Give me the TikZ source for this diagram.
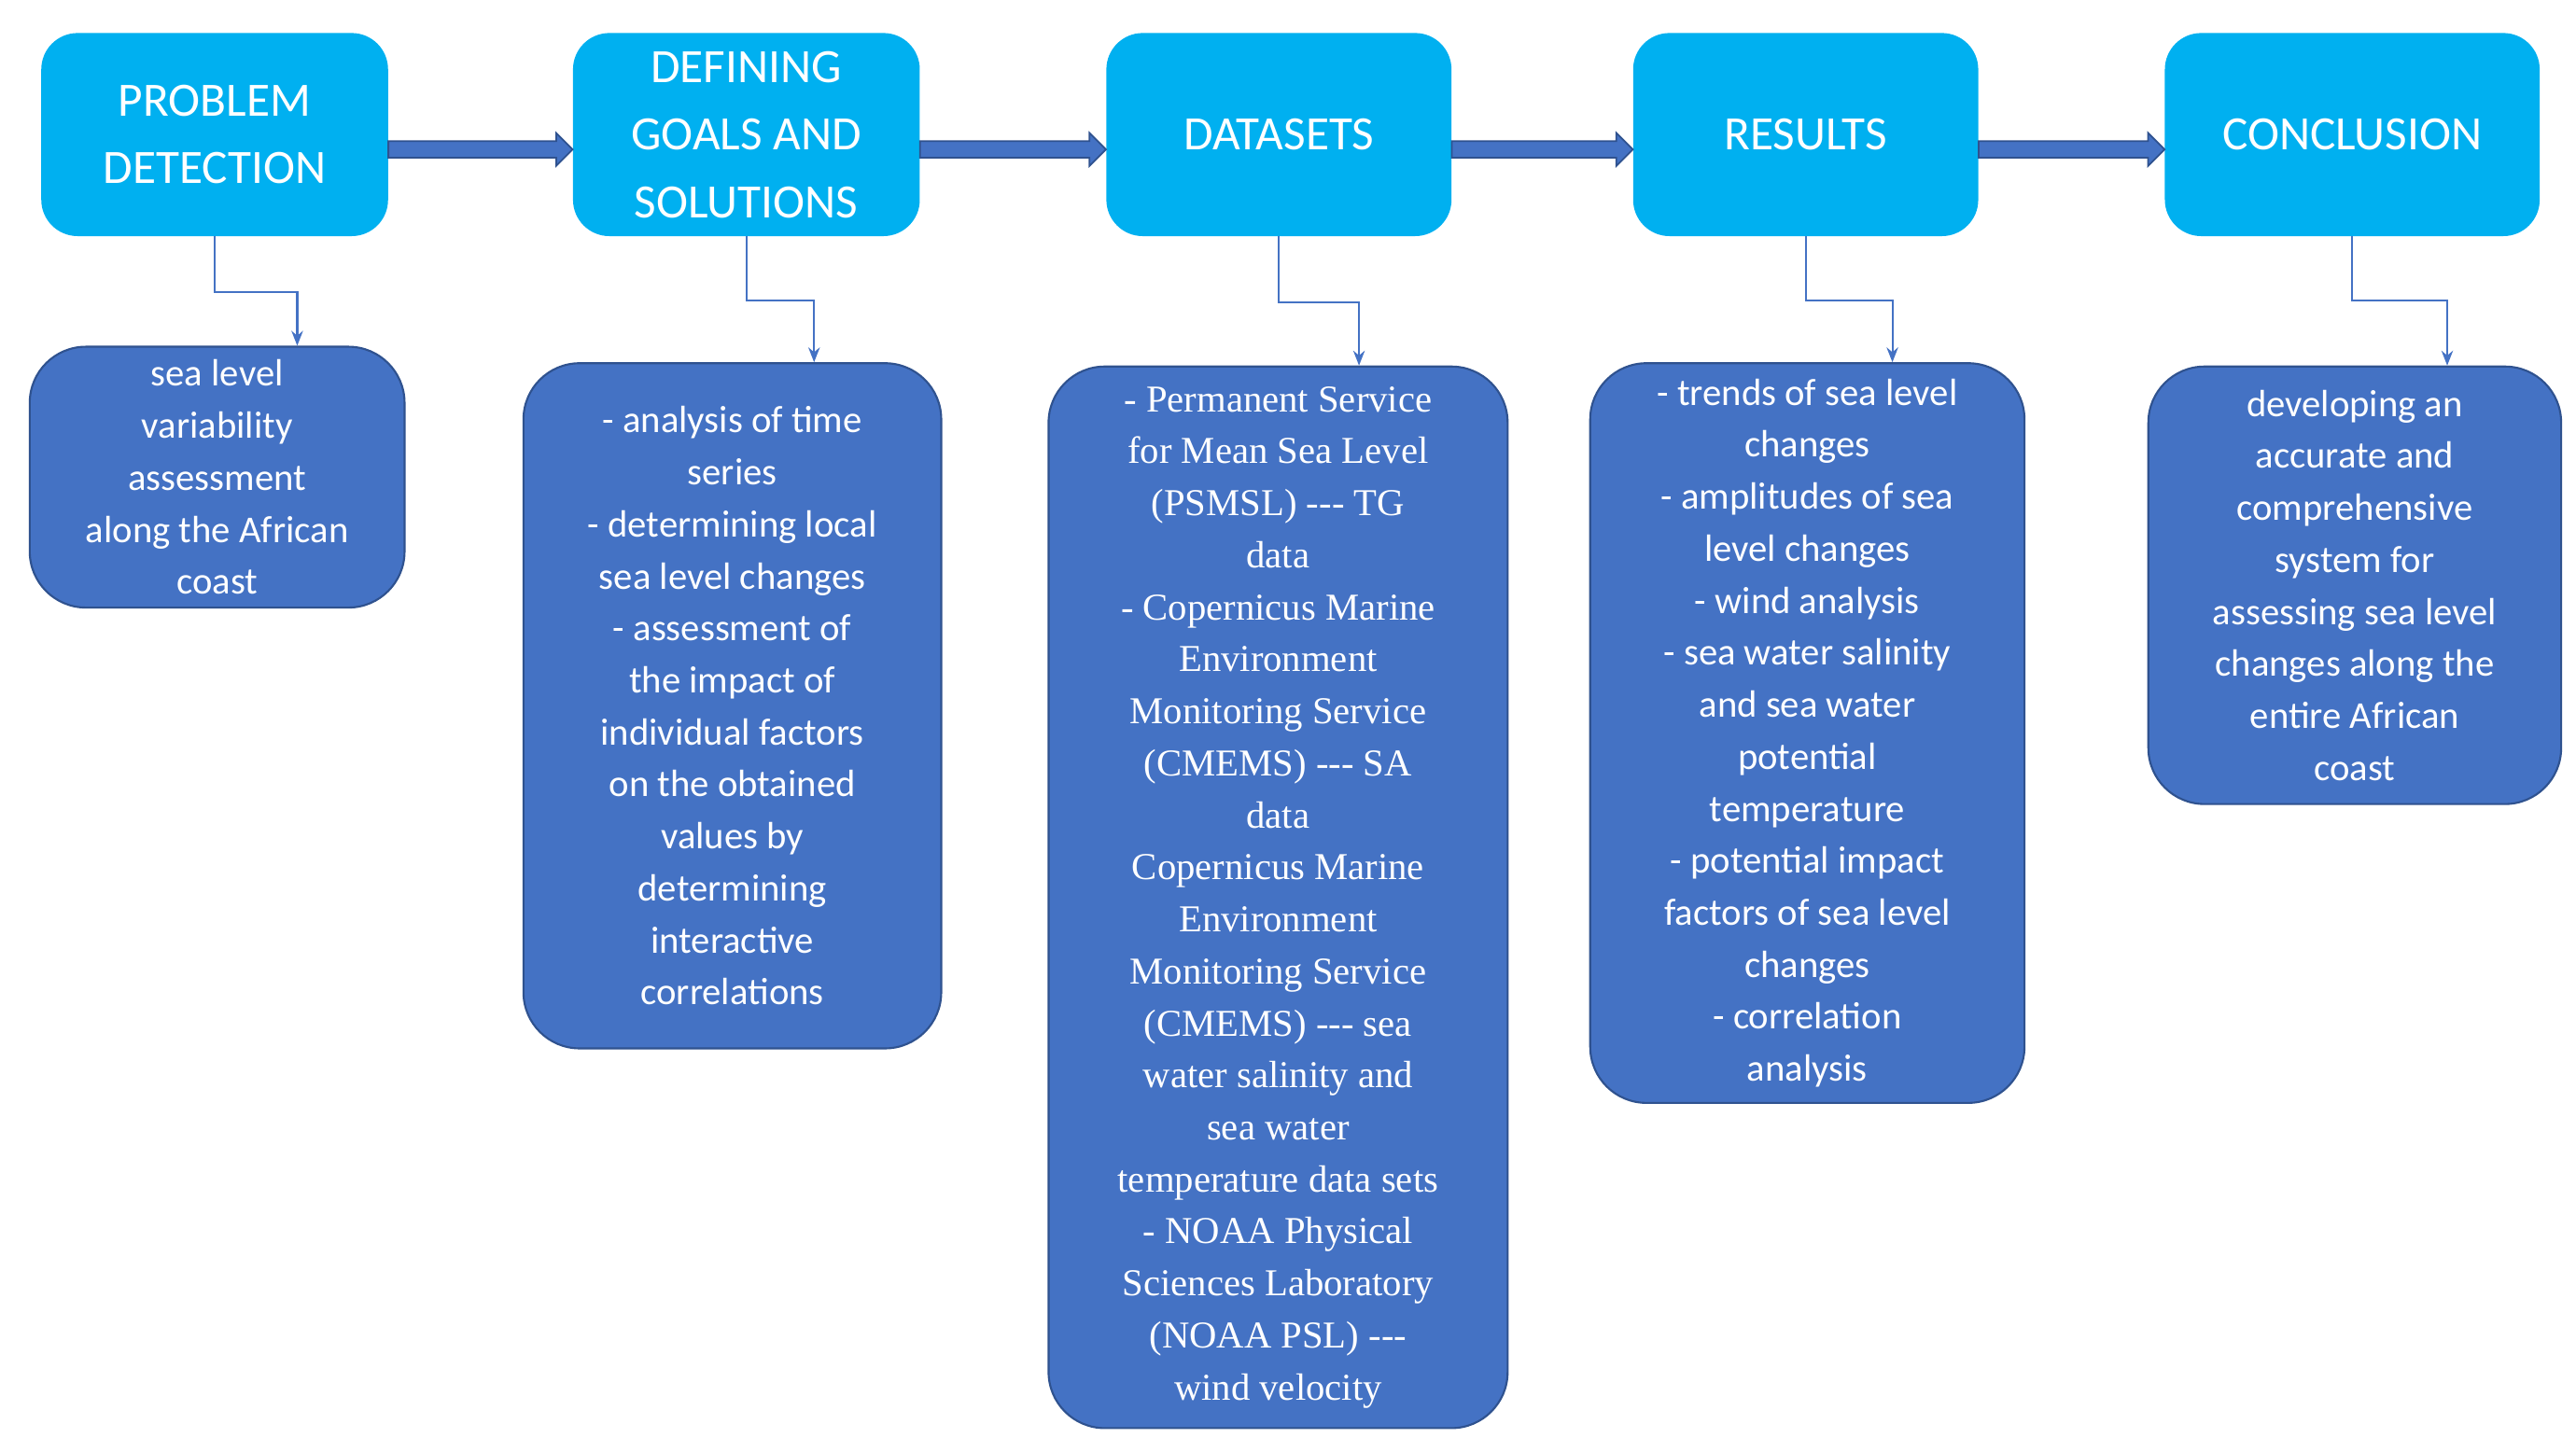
\documentclass[tikz,border=0pt]{standalone}
\usepackage{fontspec}
\setmainfont{Carlito}
\newfontfamily\tnr{Liberation Serif}
\usetikzlibrary{calc,arrows.meta}
\definecolor{topc}{RGB}{0,176,240}
\definecolor{botc}{RGB}{68,114,196}
\definecolor{edgec}{RGB}{47,82,143}
\tikzset{
 x=1pt,y=-1pt,
 top/.style={fill=topc,draw=none,rounded corners=22pt,text=white,align=center,font=\fontsize{29}{41}\selectfont,inner sep=0pt},
 bot/.style={fill=botc,draw=edgec,line width=1.2pt,rounded corners=34pt,text=white,align=center,font=\fontsize{23}{31.5}\selectfont,inner sep=0pt},
 conn/.style={draw=botc,line width=1.2pt,-{Stealth[length=9pt,width=7pt]}},
 big/.style={fill=botc,draw=edgec,line width=1pt}
}
\newcommand{\bigarr}[2]{%
 \path[big] ($(#1.east)+(0,4)$) -- ($(#2.west)+(-10,4)$) -- ($(#2.west)+(-10,-1)$) -- ($(#2.west)+(0,9)$) -- ($(#2.west)+(-10,19)$) -- ($(#2.west)+(-10,14)$) -- ($(#1.east)+(0,14)$) -- cycle;}
\begin{document}
\begin{tikzpicture}
\useasboundingbox (0,0) rectangle (1560,879);
\node[top,minimum width=210pt,minimum height=123pt] (t1) at (130,81.5) {PROBLEM\\DETECTION};
\node[top,minimum width=210pt,minimum height=123pt] (t2) at (452,81.5) {DEFINING\\GOALS AND\\SOLUTIONS};
\node[top,minimum width=209pt,minimum height=123pt] (t3) at (774.5,81.5) {DATASETS};
\node[top,minimum width=209pt,minimum height=123pt] (t4) at (1093.5,81.5) {RESULTS};
\node[top,minimum width=227pt,minimum height=123pt] (t5) at (1424.5,81.5) {CONCLUSION};

\node[bot,minimum width=227pt,minimum height=158pt] (b1) at (131.5,289) {sea level\\variability\\assessment\\along the African\\coast};
\node[bot,minimum width=253pt,minimum height=415pt] (b2) at (443.5,427.5) {- analysis of time\\series\\- determining local\\sea level changes\\- assessment of\\the impact of\\individual factors\\on the obtained\\values by\\determining\\interactive\\correlations};
\node[bot,minimum width=278pt,minimum height=643pt,font=\tnr\fontsize{23}{31.5}\selectfont] (b3) at (774,543.5) {- Permanent Service\\for Mean Sea Level\\(PSMSL) --- TG\\data\\- Copernicus Marine\\Environment\\Monitoring Service\\(CMEMS) --- SA\\data\\Copernicus Marine\\Environment\\Monitoring Service\\(CMEMS) --- sea\\water salinity and\\sea water\\temperature data sets\\- NOAA Physical\\Sciences Laboratory\\(NOAA PSL) ---\\wind velocity};
\node[bot,minimum width=263pt,minimum height=448pt] (b4) at (1094.5,444) {- trends of sea level\\changes\\- amplitudes of sea\\level changes\\- wind analysis\\- sea water salinity\\and sea water\\potential\\temperature\\- potential impact\\factors of sea level\\changes\\- correlation\\analysis};
\node[bot,minimum width=250pt,minimum height=265pt] (b5) at (1426,354.5) {developing an\\accurate and\\comprehensive\\system for\\assessing sea level\\changes along the\\entire African\\coast};

\bigarr{t1}{t2}
\bigarr{t2}{t3}
\bigarr{t3}{t4}
\bigarr{t4}{t5}

\coordinate (c1) at (180,177);
\draw[conn] (t1.south) |- (c1) -- (c1 |- b1.north);
\coordinate (c2) at (493,182);
\draw[conn] (t2.south) |- (c2) -- (c2 |- b2.north);
\coordinate (c3) at (823,183);
\draw[conn] (t3.south) |- (c3) -- (c3 |- b3.north);
\coordinate (c4) at (1146,182);
\draw[conn] (t4.south) |- (c4) -- (c4 |- b4.north);
\coordinate (c5) at (1482,182);
\draw[conn] (t5.south) |- (c5) -- (c5 |- b5.north);
\end{tikzpicture}
\end{document}
